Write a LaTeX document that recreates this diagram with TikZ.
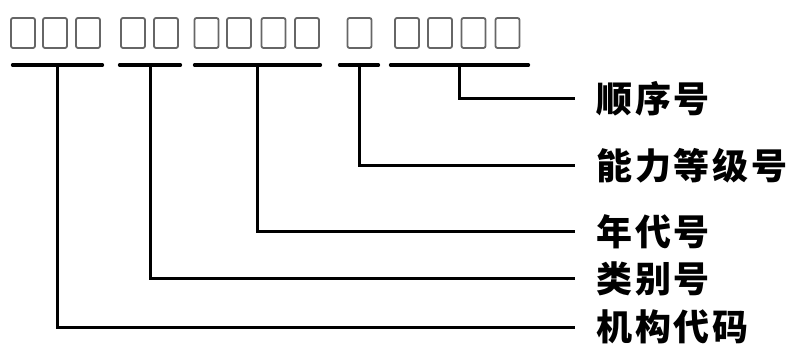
\documentclass[tikz,border=0pt]{standalone}
\usepackage{fontspec}
\newfontfamily\cjk{Noto Sans CJK SC}[LetterSpace=8]
\usetikzlibrary{positioning}

\begin{document}
\begin{tikzpicture}[x=1pt,y=-1pt,
  tofu/.style={draw=black!60, line width=1.8pt, rounded corners=2pt,
    minimum width=24pt, minimum height=30pt, inner sep=0pt},
  uline/.style={inner sep=0pt, minimum height=0pt},
  bar/.style={line width=4pt, line cap=round},
  wire/.style={line width=3pt},
  lab/.style={anchor=west, inner xsep=21pt, inner ysep=0pt,
    font=\cjk\bfseries\fontsize{36}{40}\selectfont},
]
\useasboundingbox (0,0) rectangle (792,347);

\def\yb{33};
\def\yu{65};
\def\xl{575};

% the code boxes
\foreach \bx [count=\i] in {23,55,88,133,166,206.5,239,273.5,307,359.5,407,440,473.5,507.5}
  \node[tofu] (b\i) at (\bx, \yb) {};

% underlines under each group
\node[uline, minimum width=89pt] (g1) at (57.5, \yu) {};
\node[uline, minimum width=60pt] (g2) at (150, \yu) {};
\node[uline, minimum width=125pt] (g3) at (257.5, \yu) {};
\node[uline, minimum width=38pt] (g4) at (359, \yu) {};
\node[uline, minimum width=137pt] (g5) at (459.5, \yu) {};
\foreach \g in {g1,g2,g3,g4,g5}
  \draw[bar] (\g.west) -- (\g.east);

% labels
\node[lab] (shunxu) at (\xl, 99) {顺序号};
\node[lab] (nengli) at (\xl, 166) {能力等级号};
\node[lab] (niandai) at (\xl, 232) {年代号};
\node[lab] (leibie) at (\xl, 279) {类别号};
\node[lab] (jigou) at (\xl, 327) {机构代码};

\draw[wire] (g5.center) |- (shunxu.west);
\draw[wire] (g4.center) |- (nengli.west);
\draw[wire] (g3.center) |- (niandai.west);
\draw[wire] (g2.center) |- (leibie.west);
\draw[wire] (g1.center) |- (jigou.west);

\end{tikzpicture}
\end{document}
